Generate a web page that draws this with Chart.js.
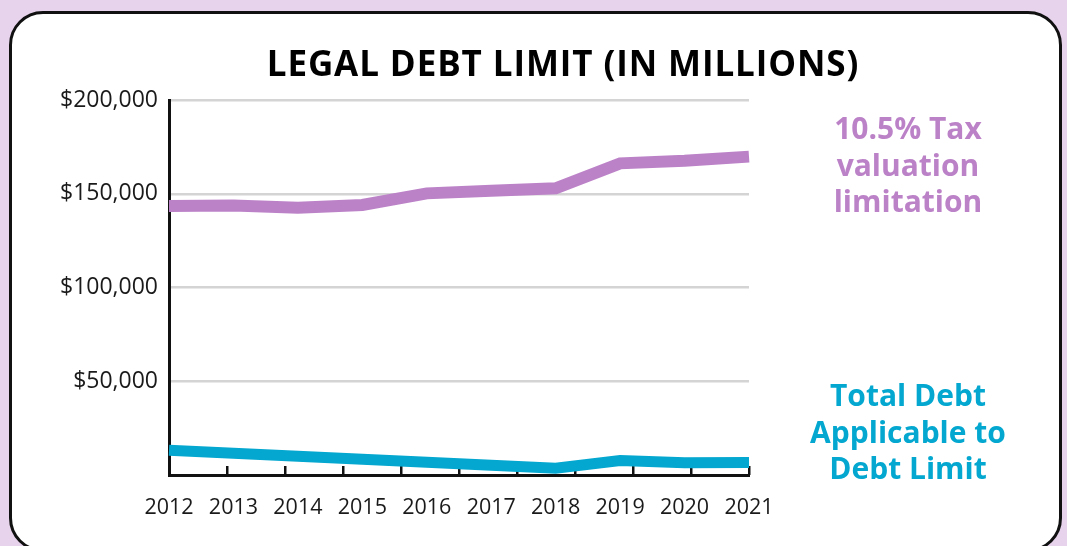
<!DOCTYPE html>
<html>
<head>
<meta charset="utf-8">
<script src="https://cdn.jsdelivr.net/npm/chart.js@4.4.1/dist/chart.umd.min.js"></script>
<style>
  html, body { margin: 0; padding: 0; width: 1067px; height: 546px; overflow: hidden; background: #e7d3ec; font-family: "Open Sans", sans-serif; }
  #box { position: absolute; left: 9px; top: 11px; width: 1053px; height: 541px; box-sizing: border-box; background: #fff; border: 3px solid #111; border-radius: 34px; }
  #wrap { position: absolute; left: 0; top: 0; width: 1067px; height: 546px; }
  #title { position: absolute; left: 213px; top: 45px; width: 700px; text-align: center; font-weight: 700; font-size: 35px; line-height: 35px; letter-spacing: 0.9px; color: #000; white-space: nowrap; }
  .side { position: absolute; left: 758px; width: 300px; text-align: center; font-weight: 700; font-size: 30px; line-height: 36.5px; }
  #lblTax { top: 110px; color: #bc82c8; }
  #lblDebt { top: 377px; color: #03a7cf; }
</style>
</head>
<body>
<div id="box"></div>
<div id="wrap"><canvas id="c"></canvas></div>
<div id="title">LEGAL DEBT LIMIT (IN MILLIONS)</div>
<div class="side" id="lblTax">10.5% Tax<br>valuation<br>limitation</div>
<div class="side" id="lblDebt">Total Debt<br>Applicable to<br>Debt Limit</div>
<script>
const years = ['2012','2013','2014','2015','2016','2017','2018','2019','2020','2021'];
const taxValuationLimit = [143500, 143700, 142600, 144000, 150200, 151600, 152900, 166200, 167600, 169800];
const debtApplicable = [13200, 11600, 10000, 8400, 6800, 5200, 3600, 7700, 6500, 6700];
const yTickValues = [0, 50000, 100000, 150000, 200000];

Chart.defaults.font.family = '"Open Sans", sans-serif';

new Chart(document.getElementById('c'), {
  type: 'line',
  data: {
    labels: years,
    datasets: [
      { label: '10.5% Tax valuation limitation', data: taxValuationLimit, xAxisID: 'x', yAxisID: 'y',
        borderColor: '#bc82c8', borderWidth: 12, pointRadius: 0, tension: 0, fill: false,
        borderJoinStyle: 'miter', borderCapStyle: 'butt', clip: false },
      { label: 'Total Debt Applicable to Debt Limit', data: debtApplicable, xAxisID: 'x', yAxisID: 'y',
        borderColor: '#03a7cf', borderWidth: 11, pointRadius: 0, tension: 0, fill: false,
        borderJoinStyle: 'miter', borderCapStyle: 'butt', clip: false }
    ]
  },
  options: {
    responsive: true,
    maintainAspectRatio: false,
    animation: false,
    layout: { padding: { left: 0, right: 318, top: 100, bottom: 0 } },
    plugins: { legend: { display: false }, title: { display: false }, tooltip: { enabled: false } },
    scales: {
      x: {
        type: 'category', position: 'bottom', weight: 1, offset: false,
        grid: { display: false, drawTicks: false },
        border: { display: true, color: '#111', width: 3 },
        ticks: { color: '#1a1a1a', font: { size: 21.5 }, padding: 20, maxRotation: 0, autoSkip: false },
        afterFit(s) { s.height = 71; }
      },
      xt: {
        type: 'linear', position: 'bottom', weight: 0, min: 0, max: 10,
        ticks: { display: false, stepSize: 1 },
        grid: { display: true, drawOnChartArea: false, drawTicks: true, tickLength: -9, color: '#111', lineWidth: 2.5 },
        border: { display: false },
        afterFit(s) { s.height = 0; }
      },
      y: {
        min: 0, max: 200000,
        afterBuildTicks(s) { s.ticks = yTickValues.map(v => ({ value: v })); },
        afterFit(s) { s.width = 169; },
        ticks: { color: '#1a1a1a', font: { size: 23 }, padding: 11,
          callback: v => v === 0 ? '' : '$' + Number(v).toLocaleString('en-US') },
        grid: { drawTicks: false, lineWidth: 2.5,
          color: c => (c.tick && c.tick.value === 0) ? 'rgba(0,0,0,0)' : '#d4d4d4' },
        border: { color: '#111', width: 3 }
      }
    }
  }
});
</script>
</body>
</html>
